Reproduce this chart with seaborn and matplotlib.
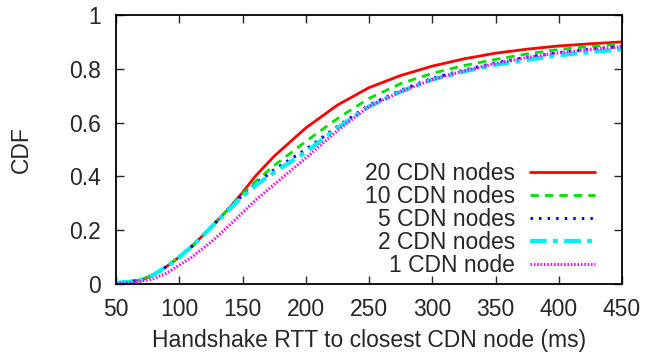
import numpy as np
import pandas as pd
import matplotlib
matplotlib.use("Agg")
import matplotlib.pyplot as plt
import seaborn as sns

# Handshake RTT (ms) at which the CDF is sampled
rtt_ms = [50, 60, 70, 80, 90, 100, 110, 125, 140, 150, 160, 175, 200,
          225, 250, 275, 300, 325, 350, 375, 400, 425, 450]

cdf_20 = [0.004, 0.008, 0.015, 0.035, 0.065, 0.10, 0.14, 0.21, 0.285, 0.34,
          0.40, 0.475, 0.58, 0.665, 0.73, 0.775, 0.81, 0.837, 0.858, 0.873,
          0.885, 0.893, 0.90]
cdf_10 = [0.004, 0.008, 0.015, 0.035, 0.065, 0.10, 0.14, 0.21, 0.285, 0.335,
          0.38, 0.44, 0.53, 0.615, 0.69, 0.745, 0.783, 0.812, 0.835, 0.855,
          0.872, 0.883, 0.892]
cdf_5 = [0.004, 0.008, 0.015, 0.035, 0.065, 0.10, 0.14, 0.21, 0.285, 0.33,
         0.37, 0.425, 0.50, 0.585, 0.665, 0.72, 0.765, 0.795, 0.822, 0.843,
         0.86, 0.873, 0.883]
cdf_2 = [0.004, 0.008, 0.015, 0.035, 0.065, 0.10, 0.14, 0.21, 0.28, 0.325,
         0.365, 0.415, 0.49, 0.58, 0.66, 0.715, 0.76, 0.79, 0.815, 0.833,
         0.85, 0.862, 0.872]
cdf_1 = [0.002, 0.005, 0.01, 0.02, 0.04, 0.07, 0.10, 0.155, 0.22, 0.265,
         0.31, 0.37, 0.468, 0.57, 0.66, 0.715, 0.76, 0.792, 0.82, 0.842,
         0.86, 0.872, 0.882]

series_labels = ["20 CDN nodes", "10 CDN nodes", "5 CDN nodes",
                 "2 CDN nodes", "1 CDN node"]
series_values = [cdf_20, cdf_10, cdf_5, cdf_2, cdf_1]

x_ticks = [50, 100, 150, 200, 250, 300, 350, 400, 450]
y_ticks = [0, 0.2, 0.4, 0.6, 0.8, 1]
y_tick_labels = ["0", "0.2", "0.4", "0.6", "0.8", "1"]

colors = ["#ff0000", "#00e000", "#0000ff", "#00f0f0", "#ff00ff"]
dash_styles = [
    "-",
    (0, (3.0, 2.2)),
    (0, (0.8, 2.0)),
    (0, (4.0, 1.5, 1.2, 1.5)),
    (0, (0.5, 0.6)),
]
widths = [2.0, 2.0, 2.2, 3.0, 2.2]

df = pd.concat(
    [pd.DataFrame({"rtt": rtt_ms, "cdf": v, "series": lab})
     for lab, v in zip(series_labels, series_values)],
    ignore_index=True,
)

sns.set_style("ticks")
plt.rcParams["font.family"] = ["Liberation Sans", "DejaVu Sans"]
FS = 16.5

fig = plt.figure(figsize=(6.45, 3.55), dpi=100)
ax = fig.add_axes([116 / 645, 71 / 355, 506 / 645, 269 / 355])

for lab, col, ls, lw in zip(series_labels, colors, dash_styles, widths):
    sub = df[df["series"] == lab]
    sns.lineplot(data=sub, x="rtt", y="cdf", ax=ax, color=col,
                 linestyle=ls, linewidth=lw, label=lab)

ax.set_xlim(50, 450)
ax.set_ylim(0, 1)
ax.set_xticks(x_ticks)
ax.set_yticks(y_ticks)
ax.set_yticklabels(y_tick_labels)
ax.set_xlabel("Handshake RTT to closest CDN node (ms)", fontsize=FS, labelpad=6)
ax.set_ylabel("CDF", fontsize=FS, labelpad=26)
ax.tick_params(axis="both", direction="in", length=6, width=1.0,
               labelsize=FS, top=True, right=True)
ax.tick_params(axis="y", pad=11)
ax.tick_params(axis="x", pad=10)
for sp in ax.spines.values():
    sp.set_visible(True)
    sp.set_linewidth(1.3)
    sp.set_color("black")

leg = ax.legend(loc="lower right", bbox_to_anchor=(0.947, 0.025),
                frameon=False, markerfirst=False, fontsize=FS,
                handlelength=2.85, handletextpad=0.65, labelspacing=0.0,
                borderpad=0, borderaxespad=0)

fig.savefig("out.png", dpi=100)
